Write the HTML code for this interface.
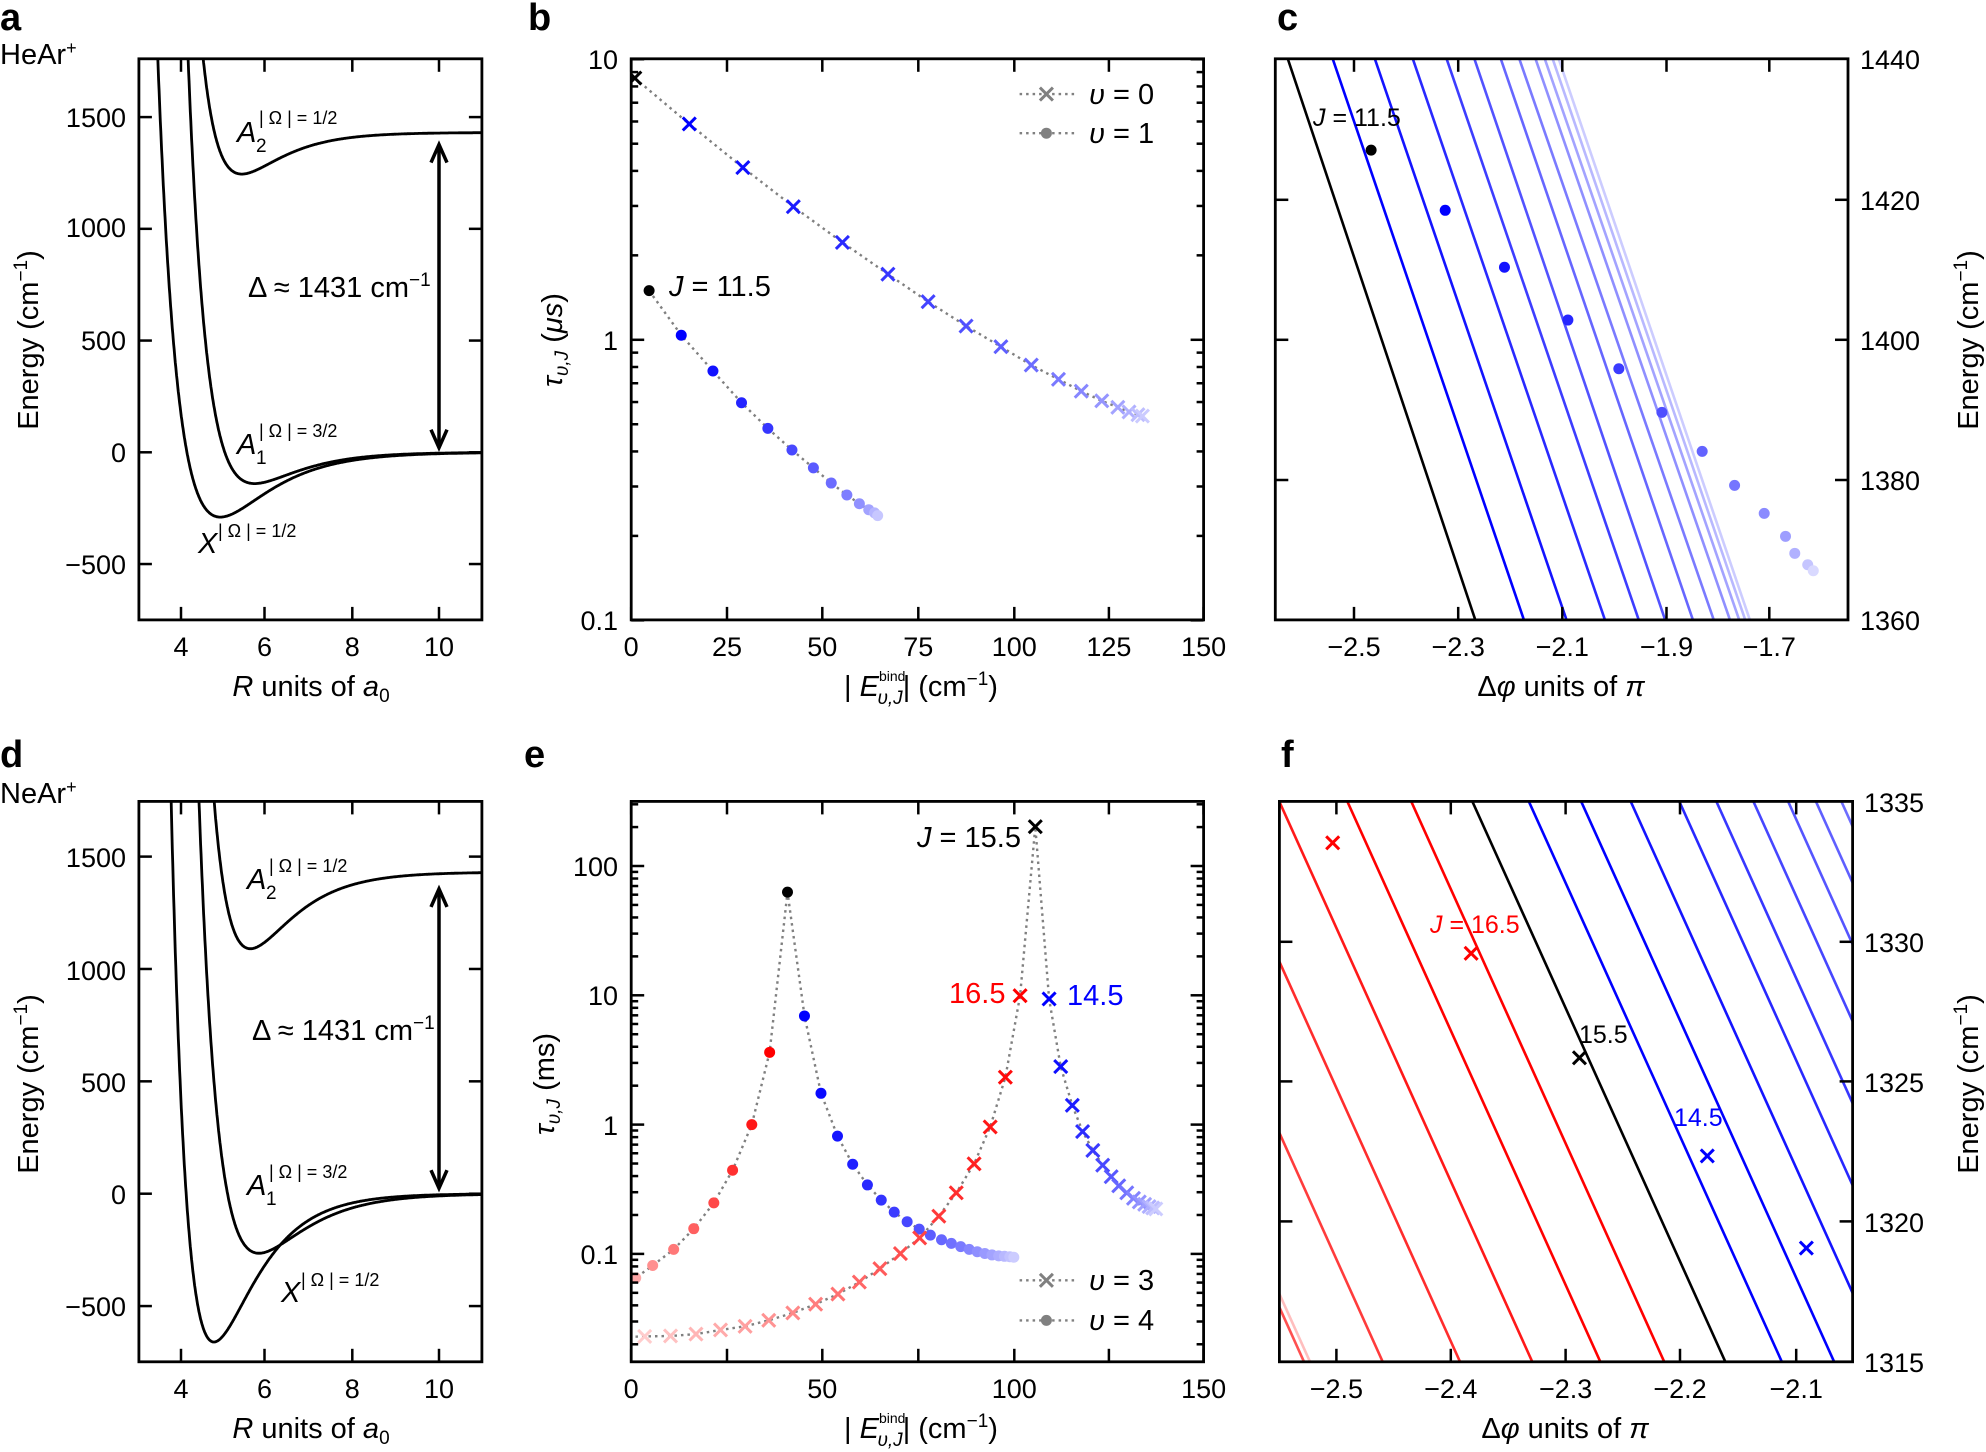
<!DOCTYPE html>
<html><head><meta charset="utf-8"><style>
html,body{margin:0;padding:0;background:#fff;}
svg{display:block;font-family:"Liberation Sans",sans-serif;}
.t{font-size:27px;fill:#000;}
.ax{font-size:29px;fill:#000;}
.it{font-style:italic;}
.b{font-weight:bold;font-size:38px;}
</style></head><body>
<svg id="s" xmlns="http://www.w3.org/2000/svg" width="1986" height="1452" viewBox="0 0 1986 1452">
<defs>
<clipPath id="ca"><rect x="138.9" y="58.8" width="343" height="561.1"/></clipPath>
<clipPath id="cd"><rect x="138.9" y="801.4" width="343" height="560.4"/></clipPath>
<clipPath id="cb"><rect x="631.2" y="58.8" width="572.4" height="561.1"/></clipPath>
<clipPath id="ce"><rect x="631.2" y="801.4" width="572.4" height="560.4"/></clipPath>
<clipPath id="cc"><rect x="1275.3" y="58.8" width="572.7" height="561.1"/></clipPath>
<clipPath id="cf"><rect x="1279.4" y="801.4" width="573.2" height="560.4"/></clipPath>
</defs>
<g id="g"></g>
<text class="b" x="0" y="30">a</text>
<text class="ax" x="0" y="64">HeAr<tspan font-size="18" dy="-10">+</tspan></text>
<text class="b" x="528" y="30">b</text>
<text class="b" x="1277" y="30">c</text>
<text class="b" x="0" y="767">d</text>
<text class="ax" x="0" y="803">NeAr<tspan font-size="18" dy="-10">+</tspan></text>
<text class="b" x="524" y="767">e</text>
<text class="b" x="1281" y="767">f</text>

<g class="t" text-anchor="end">
<text x="126" y="127">1500</text><text x="126" y="237">1000</text><text x="126" y="350">500</text><text x="126" y="462">0</text><text x="126" y="574">−500</text>
</g>
<g class="t" text-anchor="middle">
<text x="181" y="656">4</text><text x="264.5" y="656">6</text><text x="352.3" y="656">8</text><text x="439" y="656">10</text>
</g>
<text class="ax" x="311" y="696" text-anchor="middle"><tspan class="it">R</tspan> units of <tspan class="it">a</tspan><tspan font-size="19" dy="6">0</tspan></text>
<text class="ax" transform="translate(38,340) rotate(-90)" text-anchor="middle">Energy (cm<tspan font-size="19" dy="-11">−1</tspan><tspan dy="11">)</tspan></text>
<text class="ax it" x="237" y="142">A</text><text x="256" y="152" style="font-size:19px">2</text><text x="259" y="124" style="font-size:18px">| Ω | = 1/2</text>
<text class="ax" x="248" y="297">Δ ≈ 1431 cm<tspan style="font-size:19px" dy="-11">−1</tspan></text>
<text class="ax it" x="237" y="454">A</text><text x="256" y="464" style="font-size:19px">1</text><text x="259" y="437" style="font-size:18px">| Ω | = 3/2</text>
<text class="ax it" x="198" y="553">X</text><text x="218" y="537" style="font-size:18px">| Ω | = 1/2</text>

<g class="t" text-anchor="end">
<text x="126" y="867">1500</text><text x="126" y="980">1000</text><text x="126" y="1092">500</text><text x="126" y="1204">0</text><text x="126" y="1316">−500</text>
</g>
<g class="t" text-anchor="middle">
<text x="181" y="1398">4</text><text x="264.5" y="1398">6</text><text x="352.3" y="1398">8</text><text x="439" y="1398">10</text>
</g>
<text class="ax" x="311" y="1438" text-anchor="middle"><tspan class="it">R</tspan> units of <tspan class="it">a</tspan><tspan font-size="19" dy="6">0</tspan></text>
<text class="ax" transform="translate(38,1084) rotate(-90)" text-anchor="middle">Energy (cm<tspan font-size="19" dy="-11">−1</tspan><tspan dy="11">)</tspan></text>
<text class="ax it" x="247" y="889">A</text><text x="266" y="899" style="font-size:19px">2</text><text x="269" y="872" style="font-size:18px">| Ω | = 1/2</text>
<text class="ax" x="252" y="1040">Δ ≈ 1431 cm<tspan style="font-size:19px" dy="-11">−1</tspan></text>
<text class="ax it" x="247" y="1195">A</text><text x="266" y="1205" style="font-size:19px">1</text><text x="269" y="1178" style="font-size:18px">| Ω | = 3/2</text>
<text class="ax it" x="281" y="1302">X</text><text x="301" y="1286" style="font-size:18px">| Ω | = 1/2</text>

<g class="t" text-anchor="end">
<text x="618" y="69">10</text><text x="618" y="350">1</text><text x="618" y="630">0.1</text>
</g>
<g class="t" text-anchor="middle">
<text x="631.2" y="656">0</text><text x="727" y="656">25</text><text x="822.3" y="656">50</text><text x="918.3" y="656">75</text><text x="1014.3" y="656">100</text><text x="1108.9" y="656">125</text><text x="1203.6" y="656">150</text>
</g>
<text class="ax" x="921" y="696" text-anchor="middle">| <tspan class="it">E</tspan><tspan style="font-size:14px" dy="-15">bind</tspan><tspan style="font-size:19px" dx="-28" dy="23" class="it">υ,J</tspan><tspan dy="-8">| (cm</tspan><tspan style="font-size:19px" dy="-11">−1</tspan><tspan dy="11">)</tspan></text>
<text class="ax" transform="translate(562,340) rotate(-90)" text-anchor="middle"><tspan class="it">τ</tspan><tspan style="font-size:19px" dy="6" class="it">υ,J</tspan><tspan dy="-6"> (</tspan><tspan class="it">μs</tspan>)</text>
<text class="ax" x="1089" y="104"><tspan class="it">υ</tspan> = 0</text>
<text class="ax" x="1089" y="143"><tspan class="it">υ</tspan> = 1</text>
<text class="ax" x="669" y="296"><tspan class="it">J</tspan> = 11.5</text>

<g class="t" text-anchor="end">
<text x="618" y="876">100</text><text x="618" y="1005">10</text><text x="618" y="1135">1</text><text x="618" y="1264">0.1</text>
</g>
<g class="t" text-anchor="middle">
<text x="631.2" y="1398">0</text><text x="822.3" y="1398">50</text><text x="1014.3" y="1398">100</text><text x="1203.6" y="1398">150</text>
</g>
<text class="ax" x="921" y="1438" text-anchor="middle">| <tspan class="it">E</tspan><tspan style="font-size:14px" dy="-15">bind</tspan><tspan style="font-size:19px" dx="-28" dy="23" class="it">υ,J</tspan><tspan dy="-8">| (cm</tspan><tspan style="font-size:19px" dy="-11">−1</tspan><tspan dy="11">)</tspan></text>
<text class="ax" transform="translate(554,1084) rotate(-90)" text-anchor="middle"><tspan class="it">τ</tspan><tspan style="font-size:19px" dy="6" class="it">υ,J</tspan><tspan dy="-6"> (ms)</tspan></text>
<text class="ax" x="1089" y="1290"><tspan class="it">υ</tspan> = 3</text>
<text class="ax" x="1089" y="1330"><tspan class="it">υ</tspan> = 4</text>
<text class="ax" x="917" y="847"><tspan class="it">J</tspan> = 15.5</text>
<text class="ax" x="949" y="1003" style="fill:#f00">16.5</text>
<text class="ax" x="1067" y="1005" style="fill:#00f">14.5</text>

<g class="t">
<text x="1860" y="69">1440</text><text x="1860" y="210">1420</text><text x="1860" y="350">1400</text><text x="1860" y="490">1380</text><text x="1860" y="630">1360</text>
</g>
<g class="t" text-anchor="middle">
<text x="1354" y="656">−2.5</text><text x="1458.2" y="656">−2.3</text><text x="1562.3" y="656">−2.1</text><text x="1666.5" y="656">−1.9</text><text x="1769.3" y="656">−1.7</text>
</g>
<text class="ax" x="1561" y="696" text-anchor="middle">Δ<tspan class="it">φ</tspan> units of <tspan class="it">π</tspan></text>
<text class="ax" transform="translate(1978,340) rotate(-90)" text-anchor="middle">Energy (cm<tspan font-size="19" dy="-11">−1</tspan><tspan dy="11">)</tspan></text>
<text class="ax" x="1313" y="126" style="font-size:25px"><tspan class="it">J</tspan> = 11.5</text>

<g class="t">
<text x="1864" y="812">1335</text><text x="1864" y="952">1330</text><text x="1864" y="1092">1325</text><text x="1864" y="1232">1320</text><text x="1864" y="1372">1315</text>
</g>
<g class="t" text-anchor="middle">
<text x="1336.4" y="1398">−2.5</text><text x="1450.8" y="1398">−2.4</text><text x="1565.6" y="1398">−2.3</text><text x="1680" y="1398">−2.2</text><text x="1796.2" y="1398">−2.1</text>
</g>
<text class="ax" x="1565" y="1438" text-anchor="middle">Δ<tspan class="it">φ</tspan> units of <tspan class="it">π</tspan></text>
<text class="ax" transform="translate(1978,1084) rotate(-90)" text-anchor="middle">Energy (cm<tspan font-size="19" dy="-11">−1</tspan><tspan dy="11">)</tspan></text>
<text class="ax" x="1430" y="933" style="fill:#f00;font-size:25px"><tspan class="it">J</tspan> = 16.5</text>
<text class="ax" x="1579" y="1043" style="font-size:25px">15.5</text>
<text class="ax" x="1674" y="1126" style="fill:#00f;font-size:25px">14.5</text>
</svg>
<script>
var NS='http://www.w3.org/2000/svg',G=document.getElementById('g');
function el(t,a,p){var e=document.createElementNS(NS,t);for(var k in a)e.setAttribute(k,a[k]);(p||G).appendChild(e);return e;}
function grp(clip){return el('g',clip?{'clip-path':'url(#'+clip+')'}:{});}
function L(x1,y1,x2,y2,c,w,p,extra){var a={x1:x1,y1:y1,x2:x2,y2:y2,stroke:c||'#000','stroke-width':w||2.7};if(extra)for(var k in extra)a[k]=extra[k];return el('line',a,p);}
function box(x1,y1,x2,y2){el('rect',{x:x1,y:y1,width:x2-x1,height:y2-y1,fill:'none',stroke:'#000','stroke-width':2.8});}
function Z(x0,y0,w,h){return function(p){return [x0+p[0]*w/1568,y0+p[1]*h/1568];};}
function cross(x,y,c,p,s){s=s||6.5;L(x-s,y-s,x+s,y+s,c,3,p);L(x-s,y+s,x+s,y-s,c,3,p);}
function dot(x,y,c,p,r){el('circle',{cx:x,cy:y,r:r||5.5,fill:c},p);}
function poly(pts,c,w,dash,p){el('polyline',{points:pts.map(function(q){return q[0].toFixed(1)+','+q[1].toFixed(1);}).join(' '),fill:'none',stroke:c,'stroke-width':w,'stroke-dasharray':dash||'none'},p);}
function mix(base,t){return 'rgb('+Math.round(base[0]+(255-base[0])*t)+','+Math.round(base[1]+(255-base[1])*t)+','+Math.round(base[2]+(255-base[2])*t)+')';}
function xt(xs,y1,y2,len){xs.forEach(function(x){L(x,y1,x,y1+len,'#000',2.5);L(x,y2,x,y2-len,'#000',2.5);});}
function yt(ys,x1,x2,len){ys.forEach(function(y){L(x1,y,x1+len,y,'#000',2.5);L(x2,y,x2-len,y,'#000',2.5);});}

function morse(r,De,re,a,off){var e=1-Math.exp(-a*(r-re));return De*e*e-De+off;}
function pot(top,bot,Y0,sc,curves,clip){
 var g=grp(clip);
 curves.forEach(function(c){var pts=[];for(var r=3;r<=11.001;r+=0.01){var E=morse(r,c[0],c[1],c[2],c[3]);if(E>2500)continue;pts.push([138.9+(r-3)*42.875,Y0-E*sc]);}poly(pts,'#000',2.8,null,g);});
 box(138.9,top,481.9,bot);
 xt([181,264.5,352.3,439],top,bot,13);
 yt([0,500,1000,1500,-500].map(function(E){return Y0-E*sc;}),138.9,481.9,13);
}
pot(58.8,619.9,452.3,0.22347,[[290,4.9,0.889,0],[140,5.7,0.995,0],[186,5.4,1.089,1431]],'ca');
pot(801.4,1361.8,1193.7,0.22473,[[660,4.75,1.07,0],[265,5.8,0.946,0],[341,5.6,1.03,1431]],'cd');
function arrow(x,y1,y2){L(x,y1+4,x,y2-4,'#000',3.5);el('path',{d:'M'+(x-8)+','+(y1+18)+' L'+x+','+y1+' L'+(x+8)+','+(y1+18),fill:'none',stroke:'#000','stroke-width':3.5});el('path',{d:'M'+(x-8)+','+(y2-18)+' L'+x+','+y2+' L'+(x+8)+','+(y2-18),fill:'none',stroke:'#000','stroke-width':3.5});}
arrow(439,144.6,447.7);arrow(439,888.9,1188.2);

function logticks(x1,x2,top,bot,Y,lo,hi){for(var d=lo;d<=hi;d++){for(var k=1;k<10;k++){var y=Y(k*Math.pow(10,d));if(y<top-0.5||y>bot+0.5)continue;var len=k==1?13:7;L(x1,y,x1+len,y,'#000',2.5);L(x2,y,x2-len,y,'#000',2.5);}}}
(function(){
 var Y=function(v){return 339.8-Math.log10(v)*280.55;};
 var z=Z(600,0,700,720),g=grp('cb');
 var cr=[[78,170],[200,270],[320,365],[433,450],[543,528],[645,597],[735,657],[820,710],[898,755],[966,795],[1027,826],[1078,852],[1124,873],[1160,887],[1185,897],[1205,903],[1215,906]].map(z);
 var dt=[[110,633],[182,730],[253,808],[317,877],[376,933],[430,980],[478,1019],[518,1052],[553,1078],[581,1097],[602,1110],[615,1117],[622,1123]].map(z);
 poly(cr,'#808080',2.4,'2.5,4',g);poly(dt,'#808080',2.4,'2.5,4',g);
 cr.forEach(function(p,i){cross(p[0],p[1],i==0?'#000':mix([0,0,255],Math.max(0,(i-1)/16*0.85)),g);});
 dt.forEach(function(p,i){dot(p[0],p[1],i==0?'#000':mix([0,0,255],(i-1)/12*0.85),g);});
 box(631.2,58.8,1203.6,619.9);
 xt([631.2,727,822.3,918.3,1014.3,1108.9,1203.6],58.8,619.9,13);
 logticks(631.2,1203.6,58.8,619.9,Y,-1,1);
 L(1019.6,94.1,1075.4,94.1,'#808080',2.4,null,{'stroke-dasharray':'2.5,4'});cross(1046.4,94.1,'#808080');
 L(1019.6,133.2,1075.4,133.2,'#808080',2.4,null,{'stroke-dasharray':'2.5,4'});dot(1046.4,133.2,'#808080');
})();
(function(){
 var Y=function(v){return 1124.6-Math.log10(v)*129.3;};
 var z=Z(600,730,700,722),g=grp('ce');
 var dr=[[60,1205],[80,1190],[118,1163],[165,1128],[210,1083],[255,1027],[297,956],[340,857],[380,700]].map(z);
 var pk=z([420,352]);
 var db=[[458,621],[495,789],[532,882],[566,943],[599,988],[630,1021],[659,1047],[688,1068],[715,1084],[740,1097],[765,1107],[787,1115],[808,1122],[827,1128],[845,1133],[862,1137],[878,1140],[893,1142],[906,1143],[918,1144],[927,1145]].map(z);
 var cr=[[100,1317],[158,1316],[215,1312],[270,1303],[325,1295],[378,1282],[432,1266],[483,1247],[533,1225],[581,1199],[627,1170],[673,1137],[716,1103],[759,1056],[798,1005],[838,942],[874,862],[908,754],[941,577]].map(z);
 var ck=z([975,210]);
 var cb=[[1006,584],[1032,731],[1058,815],[1081,872],[1104,913],[1126,945],[1145,970],[1162,990],[1180,1005],[1195,1017],[1208,1025],[1220,1030],[1230,1035],[1238,1038],[1245,1040]].map(z);
 var s1=z([65,1318]);
 poly(dr.concat([pk]).concat(db),'#808080',2.4,'2.5,4',g);
 poly([s1].concat(cr).concat([ck]).concat(cb),'#808080',2.4,'2.5,4',g);
 var n=dr.length;dr.forEach(function(p,i){dot(p[0],p[1],mix([255,0,0],(n-1-i)/(n-1)*0.75),g);});
 dot(pk[0],pk[1],'#000',g);
 db.forEach(function(p,i){dot(p[0],p[1],mix([0,0,255],i/(db.length-1)*0.8),g);});
 n=cr.length;cr.forEach(function(p,i){cross(p[0],p[1],mix([255,0,0],(n-1-i)/(n-1)*0.8),g);});
 cross(ck[0],ck[1],'#000',g);
 cb.forEach(function(p,i){cross(p[0],p[1],mix([0,0,255],i/(cb.length-1)*0.8),g);});
 box(631.2,801.4,1203.6,1361.8);
 xt([631.2,727,822.3,918.3,1014.3,1108.9,1203.6],801.4,1361.8,13);
 logticks(631.2,1203.6,801.4,1361.8,Y,-2,2);
 L(1019.6,1280.3,1075.4,1280.3,'#808080',2.4,null,{'stroke-dasharray':'2.5,4'});cross(1046.4,1280.3,'#808080');
 L(1019.6,1320.4,1075.4,1320.4,'#808080',2.4,null,{'stroke-dasharray':'2.5,4'});dot(1046.4,1320.4,'#808080');
})();
(function(){
 var z=Z(1260,0,726,720),g=grp('cc');
 var ln=[[60,465],[157,570],[248,662],[330,745],[403,818],[463,875],[520,935],[560,980],[595,1015],[615,1035],[632,1048],[645,1058]];
 ln.forEach(function(l,i){var a=z([l[0],128]),b=z([l[1],1350]);var dx=(b[0]-a[0])/(b[1]-a[1])*20;L(a[0]-dx,a[1]-20,b[0]+dx,b[1]+20,i==0?'#000':mix([0,0,255],(i-1)/10*0.8),2.6,g);});
 var dt=[[240,327],[400,458],[528,582],[665,697],[775,803],[868,898],[955,983],[1025,1057],[1089,1118],[1135,1168],[1155,1205],[1183,1230],[1195,1243]].map(z);
 dt.forEach(function(p,i){dot(p[0],p[1],i==0?'#000':mix([0,0,255],(i-1)/11*0.85),g);});
 box(1275.3,58.8,1848,619.9);
 xt([1354,1458.2,1562.3,1666.5,1769.3],58.8,619.9,13);
 yt([199.8,339.8,480],1275.3,1848,13);
})();
(function(){
 var z=Z(1260,730,726,722),g=grp('cf');
 var lines=[[108,'rgb(255,190,190)'],[95,'rgb(255,80,80)'],[265,'rgb(255,60,60)'],[432,'rgb(255,45,45)'],[588,'rgb(255,25,25)'],[735,'#f00'],[873,'#f00'],[1005,'#000'],[1127,'#00f'],[1240,'#00f'],[1347,'rgb(20,20,255)'],[1452,'rgb(40,40,255)'],[1532,'rgb(55,55,255)'],[1612,'rgb(70,70,255)'],[1687,'rgb(85,85,255)'],[1747,'rgb(95,95,255)'],[1802,'rgb(110,110,255)']];
 lines.forEach(function(l){var b=z([l[0]+0.449*40,1412]),a=z([l[0]-0.449*(1372-100),100]);L(a[0],a[1],b[0],b[1],l[1],2.6,g);});
 cross.apply(null,z([157,245]).concat(['#f00',g]));
 cross.apply(null,z([456,485]).concat(['#f00',g]));
 cross.apply(null,z([690,712]).concat(['#000',g]));
 cross.apply(null,z([966,925]).concat(['#00f',g]));
 cross.apply(null,z([1180,1125]).concat(['#00f',g]));
 box(1279.4,801.4,1852.6,1361.8);
 xt([1336.4,1450.8,1565.6,1680,1796.2],801.4,1361.8,13);
 yt([941.8,1081.4,1221.4],1279.4,1852.6,13);
})();
</script>
</body></html>
